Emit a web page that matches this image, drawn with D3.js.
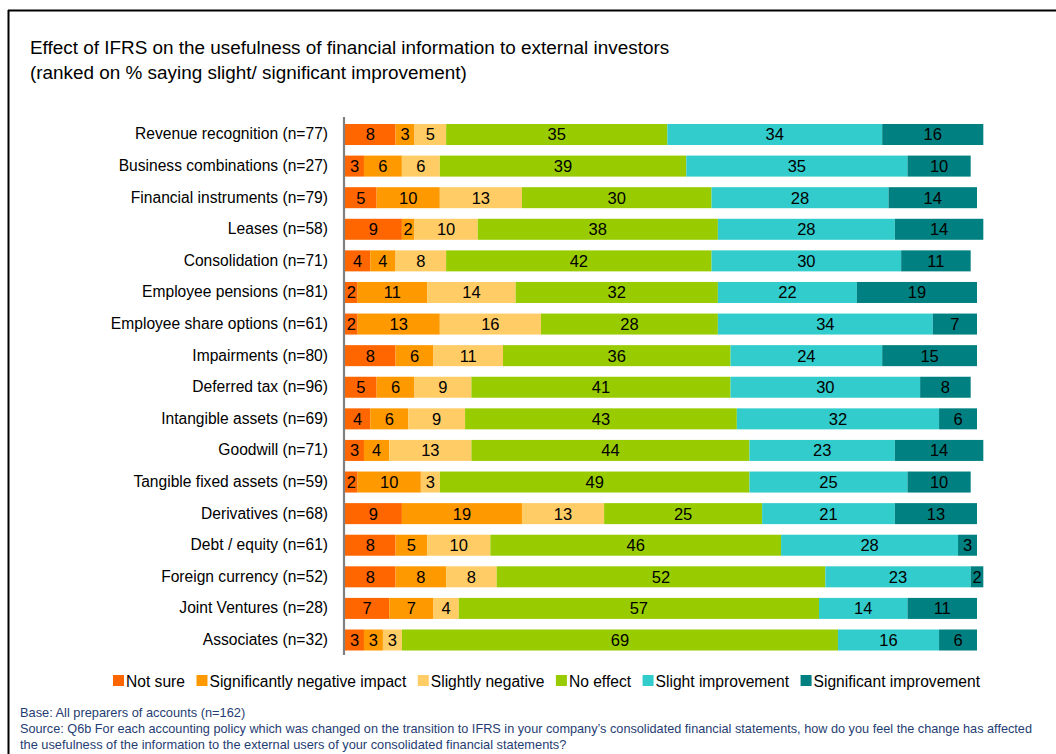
<!DOCTYPE html>
<html>
<head>
<meta charset="utf-8">
<script src="https://cdn.jsdelivr.net/npm/d3@7"></script>
<style>
  html, body { margin: 0; padding: 0; background: #fff; }
  svg { display: block; font-family: "Liberation Sans", Arial, sans-serif; }
</style>
</head>
<body>
<svg id="chart" width="1056" height="754"></svg>
<script>
// ---- Data ----
const categories = [
  "Revenue recognition (n=77)",
  "Business combinations (n=27)",
  "Financial instruments (n=79)",
  "Leases (n=58)",
  "Consolidation (n=71)",
  "Employee pensions (n=81)",
  "Employee share options (n=61)",
  "Impairments (n=80)",
  "Deferred tax (n=96)",
  "Intangible assets (n=69)",
  "Goodwill (n=71)",
  "Tangible fixed assets (n=59)",
  "Derivatives (n=68)",
  "Debt / equity (n=61)",
  "Foreign currency (n=52)",
  "Joint Ventures (n=28)",
  "Associates (n=32)"
];
const seriesNames = ["Not sure", "Significantly negative impact", "Slightly negative",
                     "No effect", "Slight improvement", "Significant improvement"];
const notSure            = [8, 3, 5, 9, 4, 2, 2, 8, 5, 4, 3, 2, 9, 8, 8, 7, 3];
const significantlyNeg   = [3, 6, 10, 2, 4, 11, 13, 6, 6, 6, 4, 10, 19, 5, 8, 7, 3];
const slightlyNeg        = [5, 6, 13, 10, 8, 14, 16, 11, 9, 9, 13, 3, 13, 10, 8, 4, 3];
const noEffect           = [35, 39, 30, 38, 42, 32, 28, 36, 41, 43, 44, 49, 25, 46, 52, 57, 69];
const slightImprovement  = [34, 35, 28, 28, 30, 22, 34, 24, 30, 32, 23, 25, 21, 28, 23, 14, 16];
const significantImprove = [16, 10, 14, 14, 11, 19, 7, 15, 8, 6, 14, 10, 13, 3, 2, 11, 6];
const colors = ["#FF6600", "#FF9900", "#FFCC66", "#99CC00", "#33CCCC", "#008080"];

const titleLines = [
  "Effect of IFRS on the usefulness of financial information to external investors",
  "(ranked on % saying slight/ significant improvement)"
];
const footerLines = [
  "Base: All preparers of accounts (n=162)",
  "Source: Q6b For each accounting policy which was changed on the transition to IFRS in your company\u2019s consolidated financial statements, how do you feel the change has affected",
  "the usefulness of the information to the external users of your consolidated financial statements?"
];

// ---- Build table ----
const seriesArrays = [notSure, significantlyNeg, slightlyNeg, noEffect, slightImprovement, significantImprove];
const table = categories.map((c, i) => {
  const row = { category: c };
  seriesNames.forEach((s, j) => row[s] = seriesArrays[j][i]);
  return row;
});
const stacked = d3.stack().keys(seriesNames)(table);

const svg = d3.select("#chart");

// frame
svg.append("line").attr("x1", 8).attr("x2", 1056).attr("y1", 10.5).attr("y2", 10.5)
  .attr("stroke", "#000").attr("stroke-width", 2);
svg.append("line").attr("x1", 8.5).attr("x2", 8.5).attr("y1", 10).attr("y2", 754)
  .attr("stroke", "#000").attr("stroke-width", 2);

// title
svg.append("g").selectAll("text").data(titleLines).join("text")
  .attr("x", 30).attr("y", (d, i) => 54 + i * 25)
  .attr("font-size", 18.9).attr("fill", "#000").text(d => d);

// scales
const x = d3.scaleLinear().domain([0, 100]).range([345, 977]);
const y = d3.scaleBand().domain(categories).range([118.7, 655.8])
  .paddingInner(0.335).paddingOuter(0.1675);

// bars
const layers = svg.append("g").selectAll("g").data(stacked).join("g")
  .attr("fill", (d, i) => colors[i]);
layers.selectAll("rect").data(d => d).join("rect")
  .attr("x", d => x(d[0]))
  .attr("width", d => x(d[1]) - x(d[0]))
  .attr("y", d => y(d.data.category))
  .attr("height", y.bandwidth());

// value labels
const lbl = svg.append("g").attr("font-size", 16.5).attr("fill", "#000").attr("text-anchor", "middle");
stacked.forEach(layer => {
  layer.forEach(d => {
    lbl.append("text")
      .attr("x", (x(d[0]) + x(d[1])) / 2)
      .attr("y", y(d.data.category) + y.bandwidth() / 2)
      .attr("dy", "0.36em")
      .text(d[1] - d[0]);
  });
});

// category axis
const yAxis = d3.axisLeft(y).tickSize(0).tickPadding(0);
const axG = svg.append("g").attr("transform", "translate(328,0)").call(yAxis);
axG.select(".domain").remove();
axG.selectAll("text").attr("font-size", 15.6).attr("fill", "#000")
  .attr("font-family", "'Liberation Sans', Arial, sans-serif");

svg.append("line").attr("x1", 344).attr("x2", 344).attr("y1", 117).attr("y2", 655)
  .attr("stroke", "#808080").attr("stroke-width", 2.2);

// legend
const legend = svg.append("g");
const legendStart = 113, legendEnd = 980, sq = 11;
const items = legend.selectAll("g").data(seriesNames).join("g");
items.append("rect").attr("width", sq).attr("height", sq).attr("y", 675)
  .attr("fill", (d, i) => colors[i]);
items.append("text").attr("x", sq + 2).attr("y", 687).attr("font-size", 15.6)
  .attr("fill", "#000").text(d => d);
const widths = [];
items.each(function() { widths.push(d3.select(this).select("text").node().getComputedTextLength()); });
const totalItems = widths.reduce((a, w) => a + w + sq + 2, 0);
const gap = Math.max(6, (legendEnd - legendStart - totalItems) / (seriesNames.length - 1));
let cx = legendStart;
items.each(function(d, i) {
  d3.select(this).attr("transform", `translate(${cx},0)`);
  cx += sq + 2 + widths[i] + gap;
});

// footer
svg.append("g").selectAll("text").data(footerLines).join("text")
  .attr("x", 20).attr("y", (d, i) => 717 + i * 16)
  .attr("font-size", 12.8).attr("fill", "#1F3D73").text(d => d)
  .filter((d, i) => i === 1)
  .attr("textLength", 1012).attr("lengthAdjust", "spacingAndGlyphs");
</script>
</body>
</html>
